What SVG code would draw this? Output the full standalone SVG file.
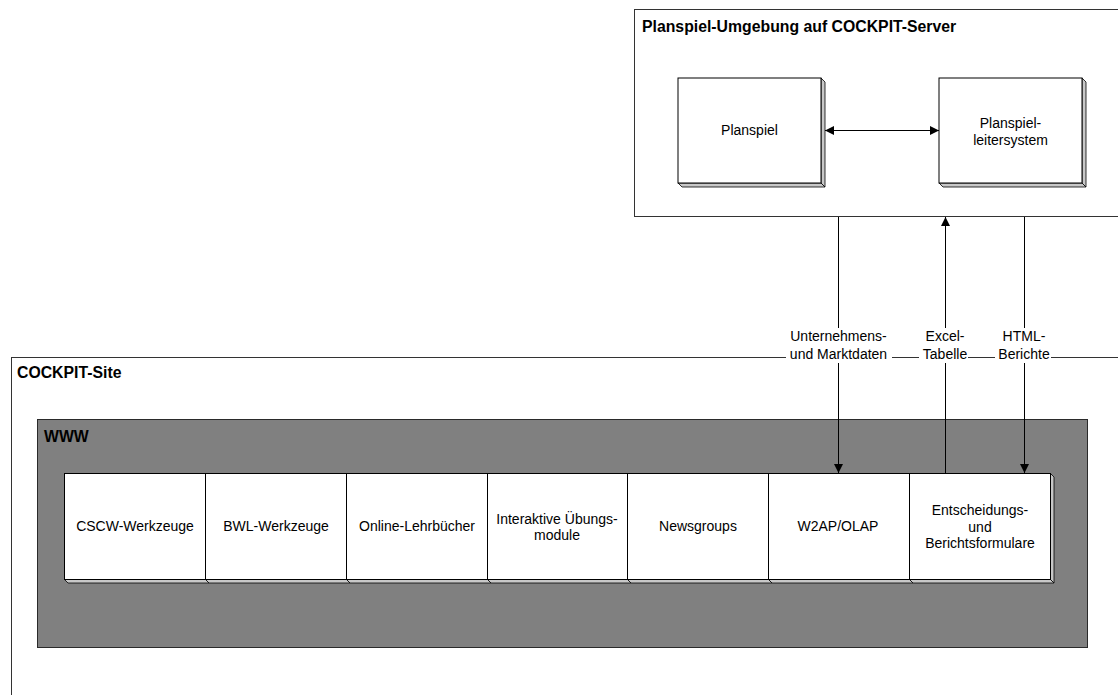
<svg xmlns="http://www.w3.org/2000/svg" width="1118" height="695" viewBox="0 0 1118 695">
<defs>
<style>
text{font-family:"Liberation Sans",Arial,sans-serif;fill:#000}
.t{font-size:14px;text-anchor:middle}
.h{font-size:15.8px;font-weight:bold}
.box{fill:#fff;stroke:#000;stroke-width:1}
.sh{fill:#c8c8c8;stroke:#000;stroke-width:0.8}
.frame{fill:#fff;stroke:#333;stroke-width:1}
.ln{stroke:#000;stroke-width:1;fill:none}
</style>
<marker id="ah" viewBox="0 0 10 10" refX="10" refY="5" markerWidth="9" markerHeight="9" markerUnits="userSpaceOnUse" orient="auto-start-reverse">
<path d="M0,0 L10,5 L0,10 z" fill="#000"/>
</marker>
</defs>
<rect width="1118" height="695" fill="#fff"/>

<g id="server">
<rect class="frame" x="634.5" y="9.5" width="500" height="207"/>
<text class="h" x="642" y="32">Planspiel-Umgebung auf COCKPIT-Server</text>
</g>

<g id="planspiel">
<polygon class="sh" points="821,78 825,82 825,187 821,183"/>
<polygon class="sh" points="678,183 682,187 825,187 821,183"/>
<rect class="box" x="678" y="78" width="143" height="105"/>
<text class="t" x="749.5" y="135">Planspiel</text>
</g>

<g id="leitersystem">
<polygon class="sh" points="1082,78 1086,82 1086,187 1082,183"/>
<polygon class="sh" points="939,183 943,187 1086,187 1082,183"/>
<rect class="box" x="939" y="78" width="143" height="105"/>
<text class="t" x="1010.5" y="128">Planspiel-</text>
<text class="t" x="1010.5" y="145">leitersystem</text>
</g>

<g id="site">
<rect class="frame" x="11.5" y="357.5" width="1200" height="400"/>
<text class="h" x="17" y="378">COCKPIT-Site</text>
</g>

<g id="www">
<rect x="37.5" y="419.5" width="1050" height="228" fill="#808080" stroke="#2a2a2a" stroke-width="1"/>
<text class="h" x="44" y="441.5">WWW</text>
</g>

<g id="modules">
<g id="m1">
<polygon class="sh" points="64,579 68,583 209,583 205,579"/>
<rect class="box" x="64.5" y="473.5" width="141" height="106"/>
<text class="t" x="135" y="531">CSCW-Werkzeuge</text>
</g>
<g id="m2">
<polygon class="sh" points="205,579 209,583 350,583 346,579"/>
<rect class="box" x="205.5" y="473.5" width="141" height="106"/>
<text class="t" x="276" y="531">BWL-Werkzeuge</text>
</g>
<g id="m3">
<polygon class="sh" points="346,579 350,583 491,583 487,579"/>
<rect class="box" x="346.5" y="473.5" width="141" height="106"/>
<text class="t" x="417" y="531">Online-Lehrbücher</text>
</g>
<g id="m4">
<polygon class="sh" points="487,579 491,583 631,583 627,579"/>
<rect class="box" x="487.5" y="473.5" width="140" height="106"/>
<text class="t" x="557" y="524">Interaktive Übungs-</text>
<text class="t" x="557" y="540">module</text>
</g>
<g id="m5">
<polygon class="sh" points="627,579 631,583 772,583 768,579"/>
<rect class="box" x="627.5" y="473.5" width="141" height="106"/>
<text class="t" x="698" y="531">Newsgroups</text>
</g>
<g id="m6">
<polygon class="sh" points="768,579 772,583 913,583 909,579"/>
<rect class="box" x="768.5" y="473.5" width="141" height="106"/>
<text class="t" x="838" y="531">W2AP/OLAP</text>
</g>
<g id="m7">
<polygon class="sh" points="1050,473 1054,477 1054,583 1050,579"/>
<polygon class="sh" points="909,579 913,583 1054,583 1050,579"/>
<rect class="box" x="909.5" y="473.5" width="141" height="106"/>
<text class="t" x="980" y="515">Entscheidungs-</text>
<text class="t" x="980" y="532">und</text>
<text class="t" x="980" y="548">Berichtsformulare</text>
</g>
</g>

<g id="connectors">
<line class="ln" x1="825" y1="130.5" x2="939" y2="130.5" marker-start="url(#ah)" marker-end="url(#ah)"/>
<line class="ln" x1="838.5" y1="217" x2="838.5" y2="473" marker-end="url(#ah)"/>
<line class="ln" x1="945.5" y1="473" x2="945.5" y2="217" marker-end="url(#ah)"/>
<line class="ln" x1="1024.5" y1="217" x2="1024.5" y2="473" marker-end="url(#ah)"/>
</g>

<g id="labels">
<rect x="786" y="328" width="106" height="35" fill="#fff"/>
<rect x="919" y="328" width="49" height="35" fill="#fff"/>
<rect x="995" y="328" width="56" height="35" fill="#fff"/>
<text class="t" x="838.5" y="341">Unternehmens-</text>
<text class="t" x="838.5" y="359">und Marktdaten</text>
<text class="t" x="945" y="341">Excel-</text>
<text class="t" x="945" y="359">Tabelle</text>
<text class="t" x="1024" y="341">HTML-</text>
<text class="t" x="1024" y="359">Berichte</text>
</g>
</svg>
